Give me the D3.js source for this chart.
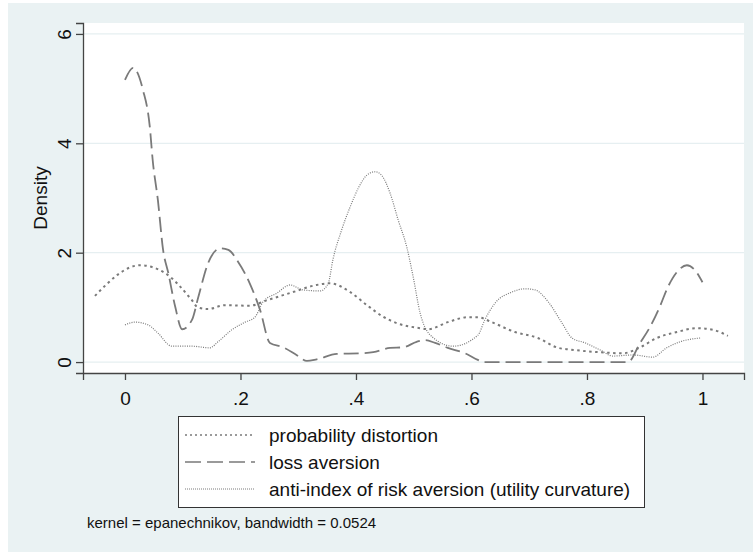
<!DOCTYPE html>
<html>
<head>
<meta charset="utf-8" />
<script src="https://d3js.org/d3.v7.min.js"></script>
<style>
body { margin: 0; background: #fff; }
text { font-family: "Liberation Sans", Arial, sans-serif; fill: #111; }
.grid line { stroke: #e6eff1; stroke-width: 1.2px; }
.axis path, .axis line { stroke: #444; stroke-width: 1.3px; }
.curve { fill: none; stroke: #7a7a7a; }
</style>
</head>
<body>
<script type="text/javascript">
// x values and density estimates
var probX = [-0.052, 0.026, 0.069, 0.116, 0.126, 0.144, 0.173, 0.216, 0.246, 0.291, 0.332, 0.355, 0.39, 0.419, 0.447, 0.471, 0.511, 0.525, 0.559, 0.594, 0.611, 0.635, 0.675, 0.715, 0.75, 0.779, 0.822, 0.862, 0.892, 0.921, 0.956, 0.99, 1.018, 1.044];
var probY = [1.21, 1.77, 1.63, 1.13, 1.0, 0.97, 1.04, 1.03, 1.13, 1.28, 1.41, 1.44, 1.28, 1.04, 0.83, 0.71, 0.62, 0.60, 0.73, 0.82, 0.82, 0.73, 0.55, 0.44, 0.26, 0.22, 0.18, 0.16, 0.27, 0.44, 0.55, 0.62, 0.59, 0.48];

var lossX = [0, 0.014, 0.031, 0.043, 0.048, 0.057, 0.066, 0.075, 0.087, 0.099, 0.116, 0.127, 0.144, 0.165, 0.179, 0.196, 0.216, 0.234, 0.251, 0.274, 0.297, 0.315, 0.332, 0.367, 0.407, 0.43, 0.459, 0.482, 0.505, 0.52, 0.537, 0.559, 0.589, 0.611, 0.62, 0.75, 0.871, 0.892, 0.909, 0.926, 0.94, 0.956, 0.973, 0.987, 1.0];
var lossY = [5.16, 5.38, 4.98, 4.30, 3.69, 2.96, 2.05, 1.63, 1.01, 0.60, 0.77, 1.19, 1.81, 2.08, 2.05, 1.83, 1.44, 0.95, 0.35, 0.27, 0.13, 0.02, 0.05, 0.15, 0.16, 0.18, 0.26, 0.27, 0.37, 0.40, 0.35, 0.26, 0.16, 0.04, 0, 0, 0, 0.35, 0.64, 1.01, 1.37, 1.65, 1.77, 1.68, 1.46];

var utilX = [0, 0.017, 0.04, 0.057, 0.081, 0.116, 0.147, 0.161, 0.185, 0.208, 0.225, 0.239, 0.263, 0.286, 0.308, 0.338, 0.352, 0.36, 0.375, 0.39, 0.404, 0.419, 0.433, 0.444, 0.459, 0.473, 0.488, 0.499, 0.511, 0.532, 0.568, 0.611, 0.623, 0.641, 0.67, 0.693, 0.71, 0.733, 0.757, 0.774, 0.797, 0.823, 0.845, 0.88, 0.914, 0.938, 0.961, 0.996];
var utilY = [0.68, 0.73, 0.68, 0.53, 0.29, 0.29, 0.26, 0.37, 0.59, 0.73, 0.82, 1.1, 1.26, 1.41, 1.32, 1.30, 1.44, 1.87, 2.41, 2.84, 3.18, 3.42, 3.48, 3.42, 3.09, 2.6, 2.10, 1.56, 0.90, 0.46, 0.29, 0.49, 0.77, 1.08, 1.28, 1.34, 1.32, 1.10, 0.71, 0.44, 0.35, 0.22, 0.11, 0.13, 0.09, 0.26, 0.37, 0.44];

var xTicks = [0, 0.2, 0.4, 0.6, 0.8, 1];
var xTickLabels = ["0", ".2", ".4", ".6", ".8", "1"];
var yTicks = [0, 2, 4, 6];

var seriesNames = ["probability distortion", "loss aversion", "anti-index of risk aversion (utility curvature)"];
var noteText = "kernel = epanechnikov, bandwidth = 0.0524";

// styles per series
var styles = [
  { dash: "2.5,3.5", width: 2 },
  { dash: "15,6", width: 1.8 },
  { dash: "1,1.3", width: 1.2 }
];

var W = 753, H = 552;
var plot = { left: 83, right: 744, top: 23, bottom: 373 };

var svg = d3.select("body").append("svg")
    .attr("width", W).attr("height", H);

svg.append("rect").attr("x", 8).attr("y", 3)
    .attr("width", W - 8).attr("height", H - 3)
    .attr("fill", "#eaf2f3");

svg.append("rect").attr("x", plot.left).attr("y", plot.top)
    .attr("width", plot.right - plot.left).attr("height", plot.bottom - plot.top)
    .attr("fill", "#fff");

var x = d3.scaleLinear().domain([-0.0727, 1.0719]).range([plot.left, plot.right]);
var y = d3.scaleLinear().domain([-0.2, 6.2]).range([plot.bottom, plot.top]);

// gridlines
svg.append("g").attr("class", "grid")
  .selectAll("line").data(yTicks).enter().append("line")
    .attr("x1", plot.left).attr("x2", plot.right)
    .attr("y1", function(d) { return y(d); })
    .attr("y2", function(d) { return y(d); });

// axes
var xAxis = svg.append("g").attr("class", "axis")
    .attr("transform", "translate(0," + plot.bottom + ")")
    .call(d3.axisBottom(x).tickValues(xTicks).tickSizeOuter(0).tickSize(7)
      .tickFormat(function(d, i) { return xTickLabels[i]; }));
xAxis.selectAll("text").attr("dy", null).attr("y", 32).style("font-size", "19px")
    .style("font-family", "Liberation Sans, Arial, sans-serif").attr("fill", "#111");

var yAxis = svg.append("g").attr("class", "axis")
    .attr("transform", "translate(" + plot.left + ",0)")
    .call(d3.axisLeft(y).tickValues(yTicks).tickSizeOuter(0).tickSize(7)
      .tickFormat(d3.format("d")));
yAxis.selectAll("text")
    .attr("x", null).attr("dy", null)
    .attr("transform", "translate(-12,0) rotate(-90)")
    .style("text-anchor", "middle")
    .style("font-size", "19px")
    .style("font-family", "Liberation Sans, Arial, sans-serif").attr("fill", "#111");

svg.append("text")
    .attr("transform", "translate(47," + ((plot.top + plot.bottom) / 2) + ") rotate(-90)")
    .attr("text-anchor", "middle")
    .style("font-size", "19px")
    .text("Density");

// curves
var line = d3.line()
    .x(function(d) { return x(d[0]); })
    .y(function(d) { return y(d[1]); })
    .curve(d3.curveMonotoneX);

var series = [d3.zip(probX, probY), d3.zip(lossX, lossY), d3.zip(utilX, utilY)];

series.forEach(function(s, i) {
  svg.append("path").attr("class", "curve")
    .attr("d", line(s))
    .style("stroke-dasharray", styles[i].dash)
    .style("stroke-width", styles[i].width);
});

// legend
var leg = svg.append("g");
leg.append("rect").attr("x", 178.5).attr("y", 416.5)
    .attr("width", 466).attr("height", 91)
    .attr("fill", "#fff").attr("stroke", "#333").attr("stroke-width", 1);

seriesNames.forEach(function(name, i) {
  var cy = 435 + i * 27;
  leg.append("line").attr("class", "curve")
    .attr("x1", 185).attr("x2", 255).attr("y1", cy).attr("y2", cy)
    .style("stroke-dasharray", i == 1 ? "16,6" : (i == 0 ? "2,3" : "1,1"))
    .style("stroke-width", i == 0 ? 1.3 : (i == 1 ? 1.6 : 1));
  leg.append("text").attr("x", 269).attr("y", cy + 7)
    .style("font-size", "19px")
    .text(name);
});

svg.append("text").attr("x", 87).attr("y", 528)
    .style("font-size", "15px")
    .text(noteText);
</script>
</body>
</html>
